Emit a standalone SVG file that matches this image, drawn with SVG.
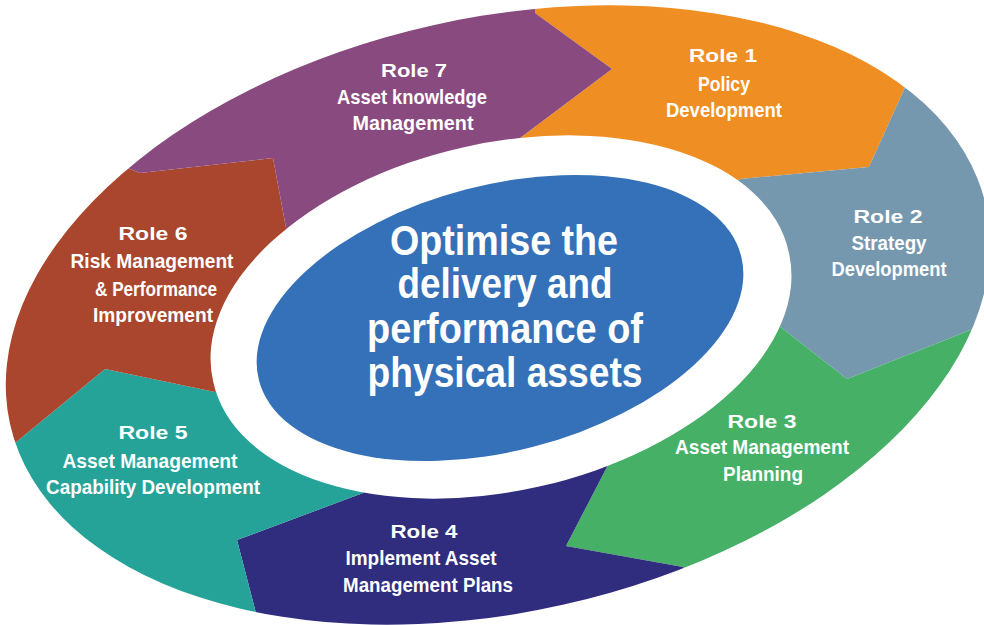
<svg xmlns="http://www.w3.org/2000/svg" width="984" height="625" viewBox="0 0 984 625">
<style>
.seg{clip-path:url(#ring)}
.t{fill:#fff;text-anchor:middle;font-family:'Liberation Sans',Arial,sans-serif;font-weight:bold;font-size:18.5px}
.s{fill:#fff;text-anchor:middle;font-family:'Liberation Sans',Arial,sans-serif;font-weight:bold;font-size:20.5px}
.c{fill:#fff;text-anchor:middle;font-family:'Liberation Sans',Arial,sans-serif;font-weight:bold;font-size:42px}
</style>
<defs>
<clipPath id="ring">
<path clip-rule="evenodd" d="M985.96 205.93 A500 297 -12.6 1 1 10.04 424.07 A500 297 -12.6 1 1 985.96 205.93 Z M788.78 252.15 A295 173 -12.7 1 1 213.22 381.85 A295 173 -12.7 1 1 788.78 252.15 Z"/>
</clipPath>
</defs>
<rect width="984" height="625" fill="#fff"/>
<g id="role1">
<polygon class="seg" fill="#EF8E22" points="500,316 520,138 612,69 535,13 556,-169 1072,-378 1151,-57 907,83 869,167 740,179"/>
<text class="t" x="723" y="62" textLength="68" lengthAdjust="spacingAndGlyphs">Role 1</text>
<text class="s" x="724" y="91" textLength="52" lengthAdjust="spacingAndGlyphs">Policy</text>
<text class="s" x="724" y="117" textLength="116" lengthAdjust="spacingAndGlyphs">Development</text>
</g>
<g id="role2">
<polygon class="seg" fill="#7598AF" points="500,316 740,179 869,167 907,83 1151,-57 1373,97 1257,337 973,329 847,379 778,325"/>
<text class="t" x="888" y="223" textLength="69" lengthAdjust="spacingAndGlyphs">Role 2</text>
<text class="s" x="889" y="250" textLength="75" lengthAdjust="spacingAndGlyphs">Strategy</text>
<text class="s" x="889" y="276" textLength="115" lengthAdjust="spacingAndGlyphs">Development</text>
</g>
<g id="role3">
<polygon class="seg" fill="#45B066" points="500,316 778,325 847,379 973,329 1257,337 1335,652 793,718 683,567 566,546 608,465"/>
<text class="t" x="762" y="428" textLength="69" lengthAdjust="spacingAndGlyphs">Role 3</text>
<text class="s" x="762" y="454" textLength="174" lengthAdjust="spacingAndGlyphs">Asset Management</text>
<text class="s" x="763" y="481" textLength="80" lengthAdjust="spacingAndGlyphs">Planning</text>
</g>
<g id="role4">
<polygon class="seg" fill="#302D7F" points="500,316 608,465 566,546 683,567 793,718 403,1211 111,798 257,617 237,540 363,493"/>
<text class="t" x="424" y="538" textLength="67" lengthAdjust="spacingAndGlyphs">Role 4</text>
<text class="s" x="421" y="565" textLength="151" lengthAdjust="spacingAndGlyphs">Implement Asset</text>
<text class="s" x="428" y="592" textLength="170" lengthAdjust="spacingAndGlyphs">Management Plans</text>
</g>
<g id="role5">
<polygon class="seg" fill="#25A398" points="500,316 363,493 237,540 257,617 111,798 -276,772 -276,519 15,443 105,369 215,392"/>
<text class="t" x="153" y="439" textLength="69" lengthAdjust="spacingAndGlyphs">Role 5</text>
<text class="s" x="150" y="468" textLength="175" lengthAdjust="spacingAndGlyphs">Asset Management</text>
<text class="s" x="153" y="494" textLength="214" lengthAdjust="spacingAndGlyphs">Capability Development</text>
</g>
<g id="role6">
<polygon class="seg" fill="#A9462D" points="500,316 215,392 105,369 15,443 -276,519 -400,299 -76,87 140,173 273,158 287,233"/>
<text class="t" x="153" y="240" textLength="69" lengthAdjust="spacingAndGlyphs">Role 6</text>
<text class="s" x="152" y="268" textLength="163" lengthAdjust="spacingAndGlyphs">Risk Management</text>
<text class="s" x="156" y="296" textLength="122" lengthAdjust="spacingAndGlyphs">&amp; Performance</text>
<text class="s" x="153" y="322" textLength="120" lengthAdjust="spacingAndGlyphs">Improvement</text>
</g>
<g id="role7">
<polygon class="seg" fill="#894A7F" points="500,316 287,233 273,158 140,173 -76,87 -30,-411 556,-169 535,13 612,69 520,138"/>
<text class="t" x="414" y="77" textLength="66" lengthAdjust="spacingAndGlyphs">Role 7</text>
<text class="s" x="412" y="104" textLength="150" lengthAdjust="spacingAndGlyphs">Asset knowledge</text>
<text class="s" x="413" y="130" textLength="121" lengthAdjust="spacingAndGlyphs">Management</text>
</g>
<g id="centre">
<ellipse cx="500" cy="318" rx="249" ry="133" transform="rotate(-14.5 500 318)" fill="#3471B8"/>
<text class="c" x="504" y="255" textLength="228" lengthAdjust="spacingAndGlyphs">Optimise the</text>
<text class="c" x="505" y="298" textLength="215" lengthAdjust="spacingAndGlyphs">delivery and</text>
<text class="c" x="505" y="343" textLength="276" lengthAdjust="spacingAndGlyphs">performance of</text>
<text class="c" x="505" y="387" textLength="275" lengthAdjust="spacingAndGlyphs">physical assets</text>
</g>
</svg>
